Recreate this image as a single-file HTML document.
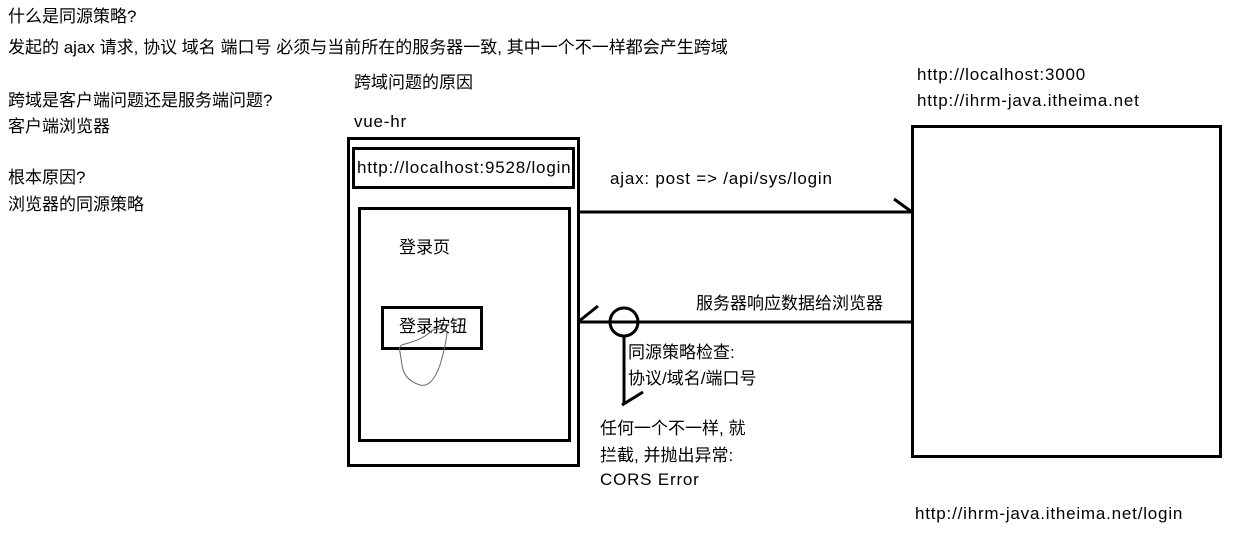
<!DOCTYPE html>
<html><head><meta charset="utf-8"><style>
body{margin:0;width:1252px;height:533px;background:#fff;position:relative;overflow:hidden;font-family:"Liberation Sans","Noto Sans CJK SC",sans-serif;font-size:17px;color:#000}
.t{position:absolute;white-space:nowrap;line-height:20px}
.l{letter-spacing:0.8px}
.b{position:absolute;border:3px solid #000;box-sizing:border-box}
</style></head><body>
<div class="t" style="left:8px;top:7px">什么是同源策略?</div>
<div class="t" style="left:8px;top:38px">发起的 ajax 请求, 协议 域名 端口号 必须与当前所在的服务器一致, 其中一个不一样都会产生跨域</div>
<div class="t" style="left:8px;top:91px">跨域是客户端问题还是服务端问题?</div>
<div class="t" style="left:8px;top:117px">客户端浏览器</div>
<div class="t" style="left:8px;top:168px">根本原因?</div>
<div class="t" style="left:8px;top:195px">浏览器的同源策略</div>
<div class="t" style="left:354px;top:73px">跨域问题的原因</div>
<div class="t l" style="left:354px;top:112px">vue-hr</div>
<div class="b" style="left:347px;top:137px;width:233px;height:330px"></div>
<div class="b" style="left:352px;top:147px;width:223px;height:42px"></div>
<div class="t l" style="left:357px;top:158px">http://localhost:9528/login</div>
<div class="b" style="left:358px;top:207px;width:213px;height:235px"></div>
<div class="t" style="left:399px;top:238px">登录页</div>
<div class="b" style="left:381px;top:306px;width:102px;height:44px"></div>
<div class="t" style="left:399px;top:317px">登录按钮</div>
<div class="t l" style="left:610px;top:169px">ajax: post => /api/sys/login</div>
<div class="t" style="left:696px;top:294px">服务器响应数据给浏览器</div>
<div class="t" style="left:628px;top:343px">同源策略检查:</div>
<div class="t" style="left:628px;top:369px">协议/域名/端口号</div>
<div class="t" style="left:600px;top:419px">任何一个不一样, 就</div>
<div class="t" style="left:600px;top:446px">拦截, 并抛出异常:</div>
<div class="t l" style="left:600px;top:470px">CORS Error</div>
<div class="t l" style="left:917px;top:65px">http://localhost:3000</div>
<div class="t l" style="left:917px;top:91px">http://ihrm-java.itheima.net</div>
<div class="b" style="left:911px;top:125px;width:311px;height:333px"></div>
<div class="t l" style="left:915px;top:504px">http://ihrm-java.itheima.net/login</div>
<svg width="1252" height="533" style="position:absolute;left:0;top:0">
<g stroke="#000" stroke-width="3" fill="none">
<line x1="580" y1="212" x2="912" y2="212"/>
<line x1="894" y1="199" x2="912" y2="212"/>
<line x1="580" y1="322" x2="912" y2="322"/>
<line x1="578" y1="322" x2="598" y2="306"/>
<circle cx="624" cy="322" r="14"/>
<line x1="624" y1="336" x2="624" y2="405"/>
<line x1="622" y1="405" x2="643" y2="392"/>
</g>
<path d="M400 352 Q398 345 405 344 Q420 340 428 334 Q436 325 447 332 Q446 345 440 365 Q432 388 420 385 Q404 380 402 365 Z" stroke="#666" stroke-width="1" fill="none"/>
</svg>
</body></html>
